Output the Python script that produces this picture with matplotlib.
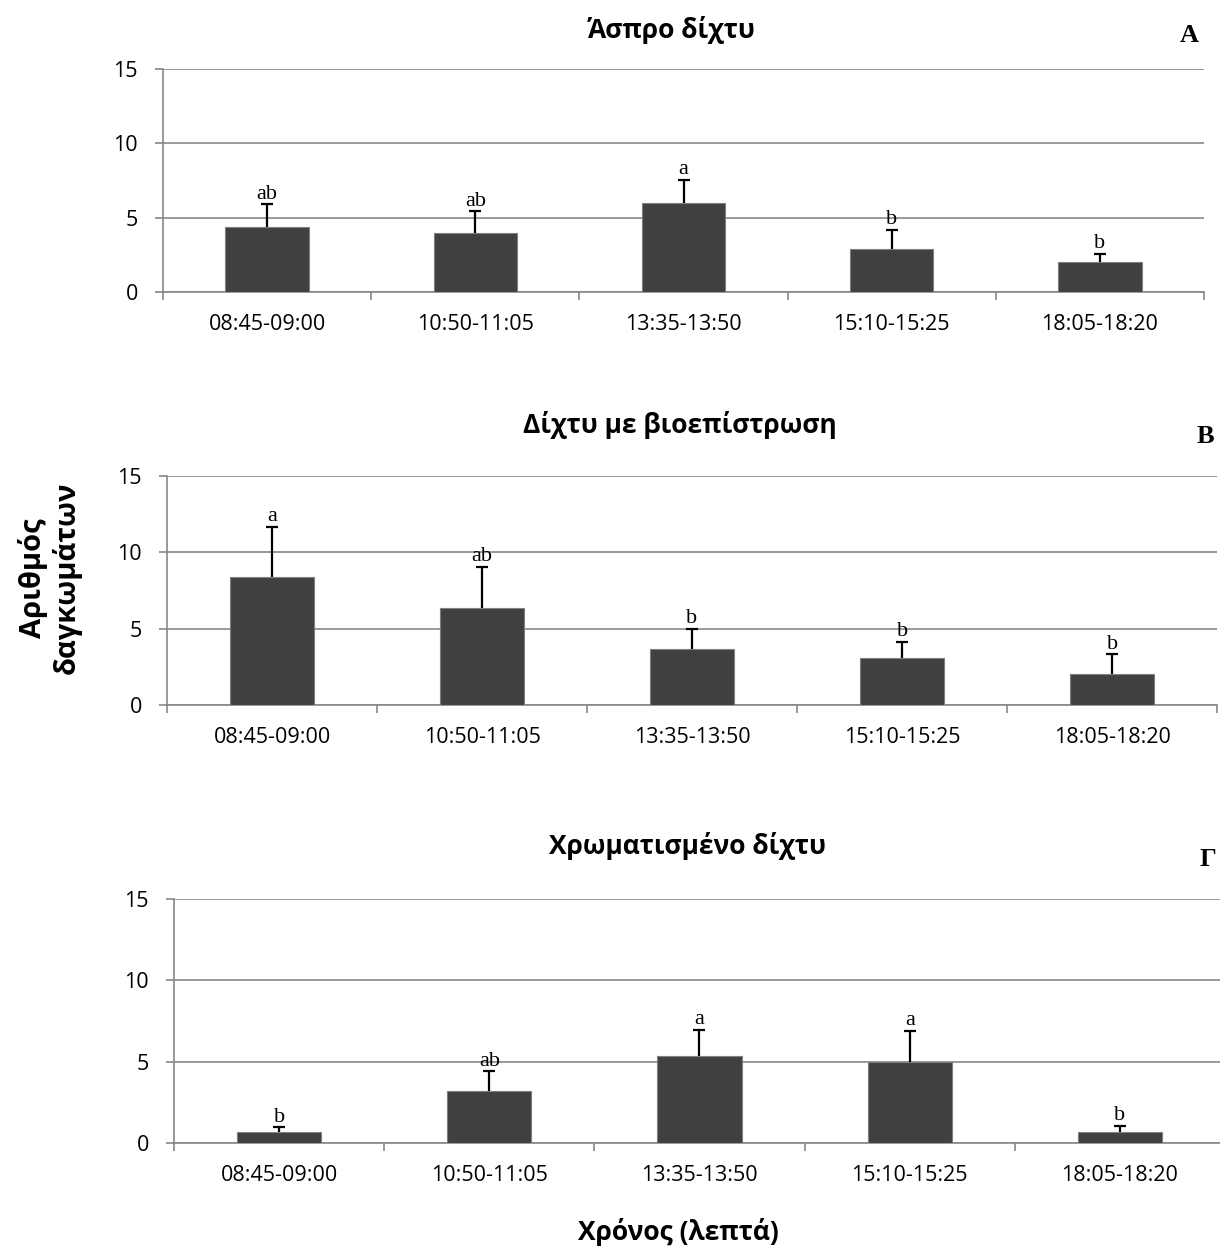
import matplotlib.pyplot as plt
import numpy as np
from matplotlib.ticker import FixedLocator

# Time windows on the x axis:
time_windows = ['08:45-09:00', '10:50-11:05', '13:35-13:50', '15:10-15:25', '18:05-18:20']

# Mean bite counts, upper error and significance letters per net type:
white_mean = [4.35, 3.98, 5.96, 2.89, 2.03]
white_err = [1.54, 1.45, 1.60, 1.29, 0.55]
white_letters = ['ab', 'ab', 'a', 'b', 'b']

biofouled_mean = [8.41, 6.36, 3.68, 3.05, 2.04]
biofouled_err = [3.25, 2.70, 1.30, 1.07, 1.27]
biofouled_letters = ['a', 'ab', 'b', 'b', 'b']

coloured_mean = [0.70, 3.17, 5.35, 4.98, 0.70]
coloured_err = [0.28, 1.24, 1.60, 1.91, 0.37]
coloured_letters = ['b', 'ab', 'a', 'a', 'b']

titles = ['Άσπρο δίχτυ', 'Δίχτυ με βιοεπίστρωση', 'Χρωματισμένο δίχτυ']
panel_tags = ['A', 'B', 'Γ']

plt.rcParams['font.family'] = ['Open Sans', 'DejaVu Sans']

grid_grey = '#878787'
bar_grey = '#404040'

fig = plt.figure(figsize=(12.2, 12.51), dpi=100)

# Axes boxes in figure fractions (left, bottom, width, height):
axes_boxes = [
    [0.1336, 0.7666, 0.8533, 0.1783],
    [0.1369, 0.4365, 0.8607, 0.1831],
    [0.1426, 0.0863, 0.8615, 0.1950],
]
title_y = [0.976, 0.660, 0.324]
tag_pos = [(0.975, 0.972), (0.988, 0.651), (0.990, 0.313)]

panels = [
    (white_mean, white_err, white_letters),
    (biofouled_mean, biofouled_err, biofouled_letters),
    (coloured_mean, coloured_err, coloured_letters),
]

x = np.arange(len(time_windows))

for i, (means, errs, letters) in enumerate(panels):
    ax = fig.add_axes(axes_boxes[i])
    ax.bar(x, means, width=0.4, color=bar_grey, edgecolor='#7f7f7f', linewidth=0.8, zorder=3)
    # Upper error only: hide the cap that sits on the bar top
    eb = ax.errorbar(x, means, yerr=[np.zeros(len(errs)), errs], fmt='none', ecolor='black',
                     elinewidth=1.6, capsize=4.5, capthick=1.6, zorder=4)
    eb[1][0].set_visible(False)
    for xi, m, e, lab in zip(x, means, errs, letters):
        ax.annotate(lab, (xi, m + e), xytext=(0, 4), textcoords='offset points', ha='center',
                    va='baseline', family='Liberation Serif', fontsize=16, zorder=5)

    ax.set_xlim(-0.5, len(time_windows) - 0.5)
    ax.set_ylim(0, 15)
    ax.set_yticks([0, 5, 10, 15])
    ax.yaxis.grid(True, color=grid_grey, linewidth=1.2, zorder=0)
    ax.set_axisbelow(True)

    ax.set_xticks(x)
    ax.set_xticklabels(time_windows)
    ax.xaxis.set_minor_locator(FixedLocator(np.arange(len(time_windows) + 1) - 0.5))
    ax.tick_params(axis='x', which='major', length=0, pad=16, labelsize=15.5)
    ax.tick_params(axis='x', which='minor', length=6, width=1.2, color=grid_grey)
    ax.tick_params(axis='y', length=6, width=1.2, color=grid_grey, pad=12, labelsize=15.5)

    for side in ['top', 'right']:
        ax.spines[side].set_visible(False)
    for side in ['left', 'bottom']:
        ax.spines[side].set_color(grid_grey)
        ax.spines[side].set_linewidth(1.2)

    box = axes_boxes[i]
    fig.text(box[0] + box[2] / 2 - 0.01, title_y[i], titles[i], ha='center', va='center',
             fontsize=19, fontweight='bold')
    fig.text(tag_pos[i][0], tag_pos[i][1], panel_tags[i], ha='center', va='center',
             family='Liberation Serif', fontsize=19, fontweight='bold')

fig.text(0.041, 0.538, 'Αριθμός\nδαγκωμάτων', rotation=90, ha='center', va='center',
         fontsize=21, fontweight='bold', linespacing=1.15)
fig.text(0.556, 0.015, 'Χρόνος (λεπτά)', ha='center', va='center', fontsize=19, fontweight='bold')

fig.savefig('out.png', dpi=100)
